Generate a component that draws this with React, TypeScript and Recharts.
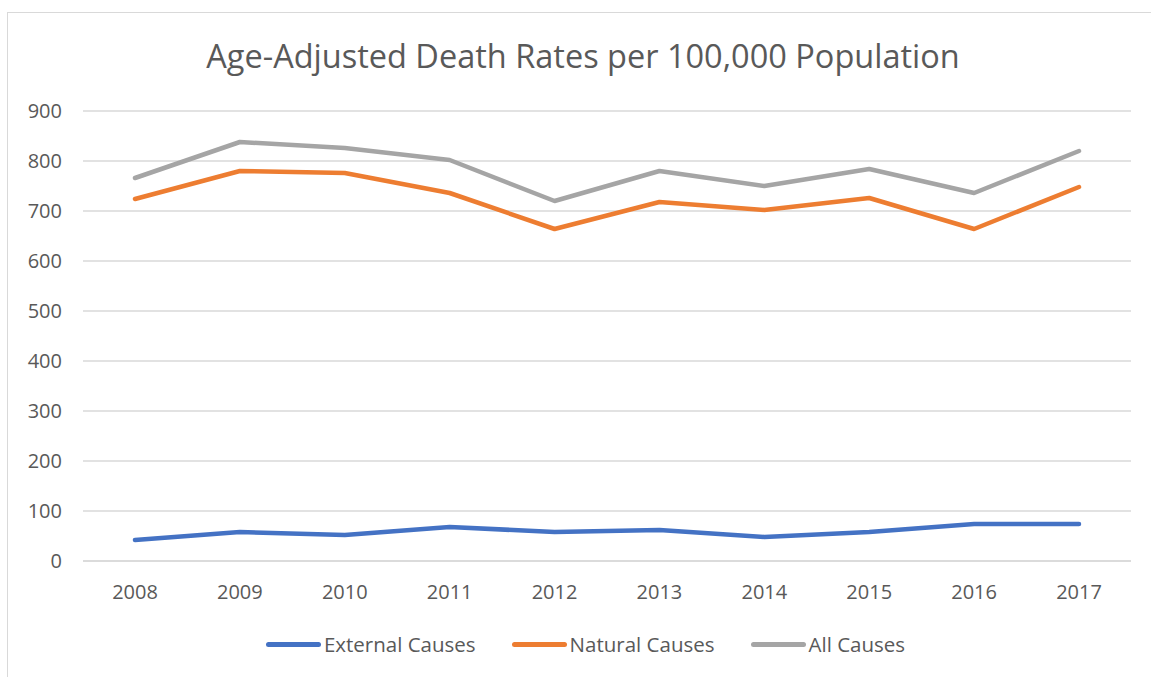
import React from 'react'
import { LineChart, Line, XAxis, YAxis, CartesianGrid, Legend } from 'recharts'

const years = ['2008', '2009', '2010', '2011', '2012', '2013', '2014', '2015', '2016', '2017']
const externalCauses = [42, 58, 52, 68, 58, 62, 48, 58, 74, 74]
const naturalCauses = [724, 780, 776, 736, 664, 718, 702, 726, 664, 748]
const allCauses = [766, 838, 826, 802, 720, 780, 750, 784, 736, 820]
const yTicks = [0, 100, 200, 300, 400, 500, 600, 700, 800, 900]

const FONT = '"Open Sans", "Noto Sans", sans-serif'
const TEXT = '#595959'

const series = [
  { key: 'external', name: 'External Causes', color: '#4472C4' },
  { key: 'natural', name: 'Natural Causes', color: '#ED7D31' },
  { key: 'all', name: 'All Causes', color: '#A5A5A5' },
]

const data = years.map((year, i) => ({
  year,
  external: externalCauses[i],
  natural: naturalCauses[i],
  all: allCauses[i],
}))

const LegendContent = () => (
  <div
    style={{
      display: 'flex',
      justifyContent: 'center',
      gap: 36,
      fontFamily: FONT,
      height: 26,
      paddingLeft: 40,
    }}
  >
    {series.map((s) => (
      <div key={s.key} style={{ display: 'flex', alignItems: 'center' }}>
        <span
          style={{
            display: 'inline-block',
            width: 55,
            height: 5,
            borderRadius: 3,
            background: s.color,
            marginRight: 3,
          }}
        />
        <span style={{ fontSize: 20.5, color: TEXT }}>{s.name}</span>
      </div>
    ))}
  </div>
)

export default function App() {
  return (
    <div style={{ position: 'fixed', left: 0, top: 0, width: 1151, height: 677, background: '#fff' }}>
      <div
        style={{
          position: 'absolute',
          left: 7,
          top: 12,
          width: 1160,
          height: 700,
          border: '1px solid #d9d9d9',
        }}
      />
      <div
        style={{
          position: 'absolute',
          left: 0,
          top: 33,
          width: 1166,
          textAlign: 'center',
          fontFamily: FONT,
          fontSize: 32.5,
          color: TEXT,
        }}
      >
        Age-Adjusted Death Rates per 100,000 Population
      </div>
      <div style={{ position: 'absolute', left: 0, top: 0 }}>
        <LineChart
          width={1151}
          height={677}
          data={data}
          margin={{ top: 111, right: 20, bottom: 50, left: 0 }}
        >
          <CartesianGrid vertical={false} stroke="#d9d9d9" strokeWidth={1.3} />
          <XAxis
            dataKey="year"
            axisLine={{ stroke: '#d9d9d9', strokeWidth: 1.3 }}
            tickLine={false}
            tickSize={0}
            tickMargin={24}
            padding={{ left: 52, right: 52 }}
            tick={{ fill: TEXT, fontSize: 20, fontFamily: FONT }}
            height={40}
          />
          <YAxis
            domain={[0, 900]}
            ticks={yTicks}
            width={83}
            axisLine={false}
            tickLine={false}
            tickSize={0}
            tickMargin={21}
            tick={{ fill: TEXT, fontSize: 20, fontFamily: FONT }}
          />
          <Legend verticalAlign="bottom" content={<LegendContent />} wrapperStyle={{ bottom: 20 }} />
          {series.map((s) => (
            <Line
              key={s.key}
              dataKey={s.key}
              name={s.name}
              stroke={s.color}
              strokeWidth={4.5}
              strokeLinecap="round"
              strokeLinejoin="round"
              dot={false}
              activeDot={false}
              isAnimationActive={false}
            />
          ))}
        </LineChart>
      </div>
    </div>
  )
}
